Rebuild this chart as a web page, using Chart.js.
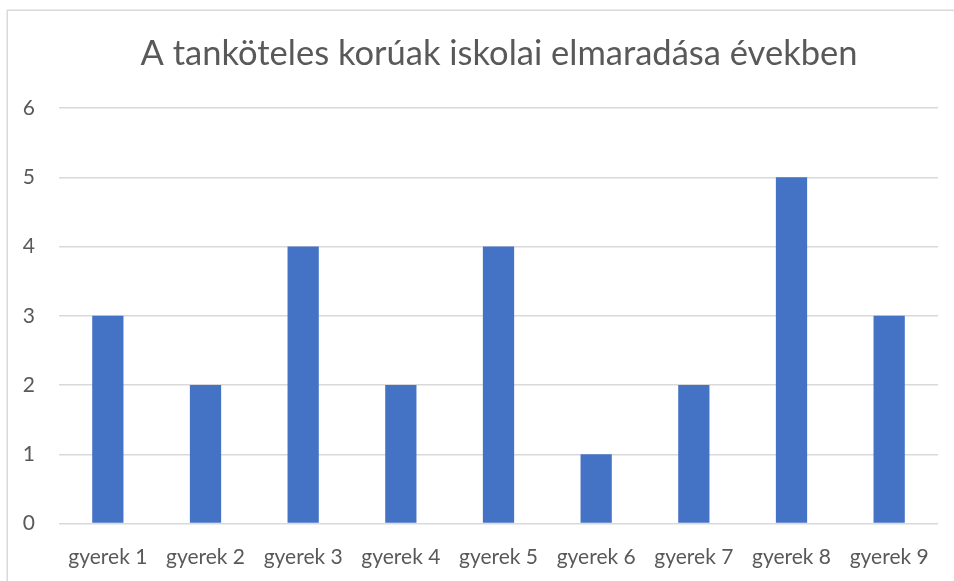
<!DOCTYPE html>
<html><head><meta charset="utf-8">
<script src="https://cdn.jsdelivr.net/npm/chart.js@4"></script>
<style>html,body{margin:0;padding:0;background:#fff;}#wrap{position:relative;width:954px;height:581px;overflow:hidden;}</style>
</head><body><div id="wrap"><canvas id="c" width="954" height="581"></canvas></div>
<script>
const categories = ['gyerek 1','gyerek 2','gyerek 3','gyerek 4','gyerek 5','gyerek 6','gyerek 7','gyerek 8','gyerek 9'];
const values = [3,2,4,2,4,1,2,5,3];
const titleText = 'A tanköteles korúak iskolai elmaradása években';
const FONT = 'Lato, Carlito, "Open Sans", sans-serif';
const framePlugin = {id:'frame',
  beforeDraw(chart){const ctx=chart.ctx;ctx.save();ctx.fillStyle='#fff';ctx.fillRect(0,0,chart.width,chart.height);ctx.strokeStyle='#d9d9d9';ctx.lineWidth=1.5;ctx.strokeRect(7.25,10.25,1000,700);ctx.restore();},
  afterDraw(chart){const ctx=chart.ctx;ctx.save();ctx.fillStyle='#595959';ctx.font='34.5px '+FONT;ctx.textAlign='center';ctx.textBaseline='alphabetic';ctx.fillText(titleText,499,65);ctx.restore();}
};
new Chart(document.getElementById('c'),{
  type:'bar',
  data:{labels:categories,datasets:[{data:values,backgroundColor:'#4472C4',borderWidth:0,barPercentage:1,categoryPercentage:0.32}]},
  options:{responsive:false,animation:false,
    layout:{padding:{left:7,right:16,top:108,bottom:12}},
    plugins:{legend:{display:false},tooltip:{enabled:false},title:{display:false}},
    scales:{
      x:{grid:{display:false,drawTicks:false},border:{display:false},ticks:{color:'#595959',font:{family:FONT,size:21},padding:21,maxRotation:0},
         afterFit(s){s.height=45.5;}},
      y:{min:0,max:6,ticks:{stepSize:1,color:'#595959',font:{family:FONT,size:21},padding:24},
         grid:{color:'#d9d9d9',lineWidth:1.5,drawTicks:false},border:{display:false},
         afterFit(s){s.width=52;}}
    }},
  plugins:[framePlugin]
});
</script></body></html>
